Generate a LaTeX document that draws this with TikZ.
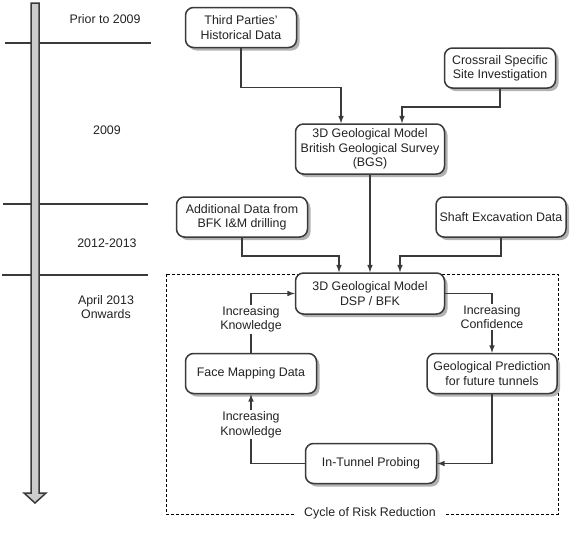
\documentclass[tikz,border=0pt]{standalone}
\usepackage{fontspec}
\setmainfont{Liberation Sans}
\usepackage{xcolor}
\usepackage{tikz}
\usetikzlibrary{calc}
\usetikzlibrary{shapes.geometric, arrows}
\usetikzlibrary{shadows}
\definecolor{linegray}{HTML}{3A3A3A}
\definecolor{textgray}{HTML}{222222}
\tikzstyle{process} = [rectangle, rounded corners=8pt, 
minimum width=131pt, 
minimum height=40pt, 
text centered, 
align=center,
inner sep=2pt,
draw=linegray,
line width=1.5pt,
fill=white,
text=textgray,
font=\fontsize{12.4}{14.3}\selectfont,
drop shadow={shadow xshift=3pt, shadow yshift=-3pt, fill=black!30, opacity=1}]
\tikzstyle{note} = [fill=white, align=center, inner sep=1.5pt, text=textgray,
font=\fontsize{12.4}{14.3}\selectfont]
\tikzstyle{era} = [align=center, text=textgray, font=\fontsize{12.4}{14.3}\selectfont]
\tikzstyle{arrow} = [line width=1.5pt, draw=linegray, ->, >=latex]
\tikzstyle{link} = [line width=1.5pt, draw=linegray]

\begin{document}
\begin{tikzpicture} [x=1pt, y=-1pt, node distance=80pt]
    \useasboundingbox (0,0) rectangle (579,539);

    % timeline
    \draw [link] (5,43) -- (151,43);
    \draw [link] (3,204) -- (148,204);
    \draw [link] (2,275) -- (148,275);
    \draw [link, fill=black!20, line join=miter] (31,3) -- (39,3) -- (39,493) -- (46,493) -- (35,503) -- (24,493) -- (31,493) -- cycle;
    \node (prior) [era] at (105,19) {Prior to 2009};
    \node (y2009) [era] at (107,130) {2009};
    \node (y2012) [era] at (107,243) {2012-2013};
    \node (y2013) [era] at (106,307) {April 2013\\ Onwards};

    % cycle
    \draw [dashed, dash pattern=on 3pt off 2pt, line width=0.8pt] (166,274) rectangle (558,514);
    \node (cycle) [note, inner xsep=9pt] at (370,513) {Cycle of Risk Reduction};

    \node (dsp) [process, minimum width=149pt, minimum height=41pt] at (370,293.5) {3D Geological Model\\DSP / BFK};
    \node (bgs) [process, above of=dsp, yshift=64.5pt, minimum width=149pt, minimum height=50pt] {3D Geological Model\\British Geological Survey\\(BGS)};
    \node (third) [process, above of=bgs, xshift=-129pt, yshift=41.5pt, minimum width=111pt] {Third Parties'\\Historical Data};
    \node (crossrail) [process, above of=bgs, xshift=130pt, yshift=1pt, minimum width=111pt] {Crossrail Specific\\Site Investigation};
    \node (additional) [process, left of=dsp, xshift=-48pt, yshift=76.5pt] {Additional Data from\\BFK I\&M drilling};
    \node (shaft) [process, right of=dsp, xshift=51pt, yshift=76.5pt, minimum width=130pt] {Shaft Excavation Data};
    \node (predict) [process, below of=dsp, xshift=122pt, minimum width=130pt] {Geological Prediction\\for future tunnels};
    \node (face) [process, below of=dsp, xshift=-119pt] {Face Mapping Data};
    \node (probe) [process, below of=face, xshift=120pt, yshift=-10pt] {In-Tunnel Probing};

    \draw [arrow] (third.south) -- ++(0,39) -| ([xshift=-29pt]bgs.north);
    \draw [arrow] (crossrail.south) -- ++(0,18) -| ([xshift=32pt]bgs.north);
    \draw [arrow] (bgs.south) -- (dsp.north);
    \draw [arrow] (additional.south) -- ++(0,18) -| ([xshift=-31pt]dsp.north);
    \draw [arrow] (shaft.south) -- ++(0,18) -| ([xshift=30pt]dsp.north);
    \draw [arrow] (dsp.east) -| node[note, pos=0.70] {Increasing\\Confidence} (predict.north);
    \draw [arrow] (predict.south) |- (probe.east);
    \draw [arrow] (probe.west) -| node[note, pos=0.78] {Increasing\\Knowledge} (face.south);
    \draw [arrow] (face.north) |- node[note, pos=0.28] {Increasing\\Knowledge} (dsp.west);

\end{tikzpicture}
\end{document}
